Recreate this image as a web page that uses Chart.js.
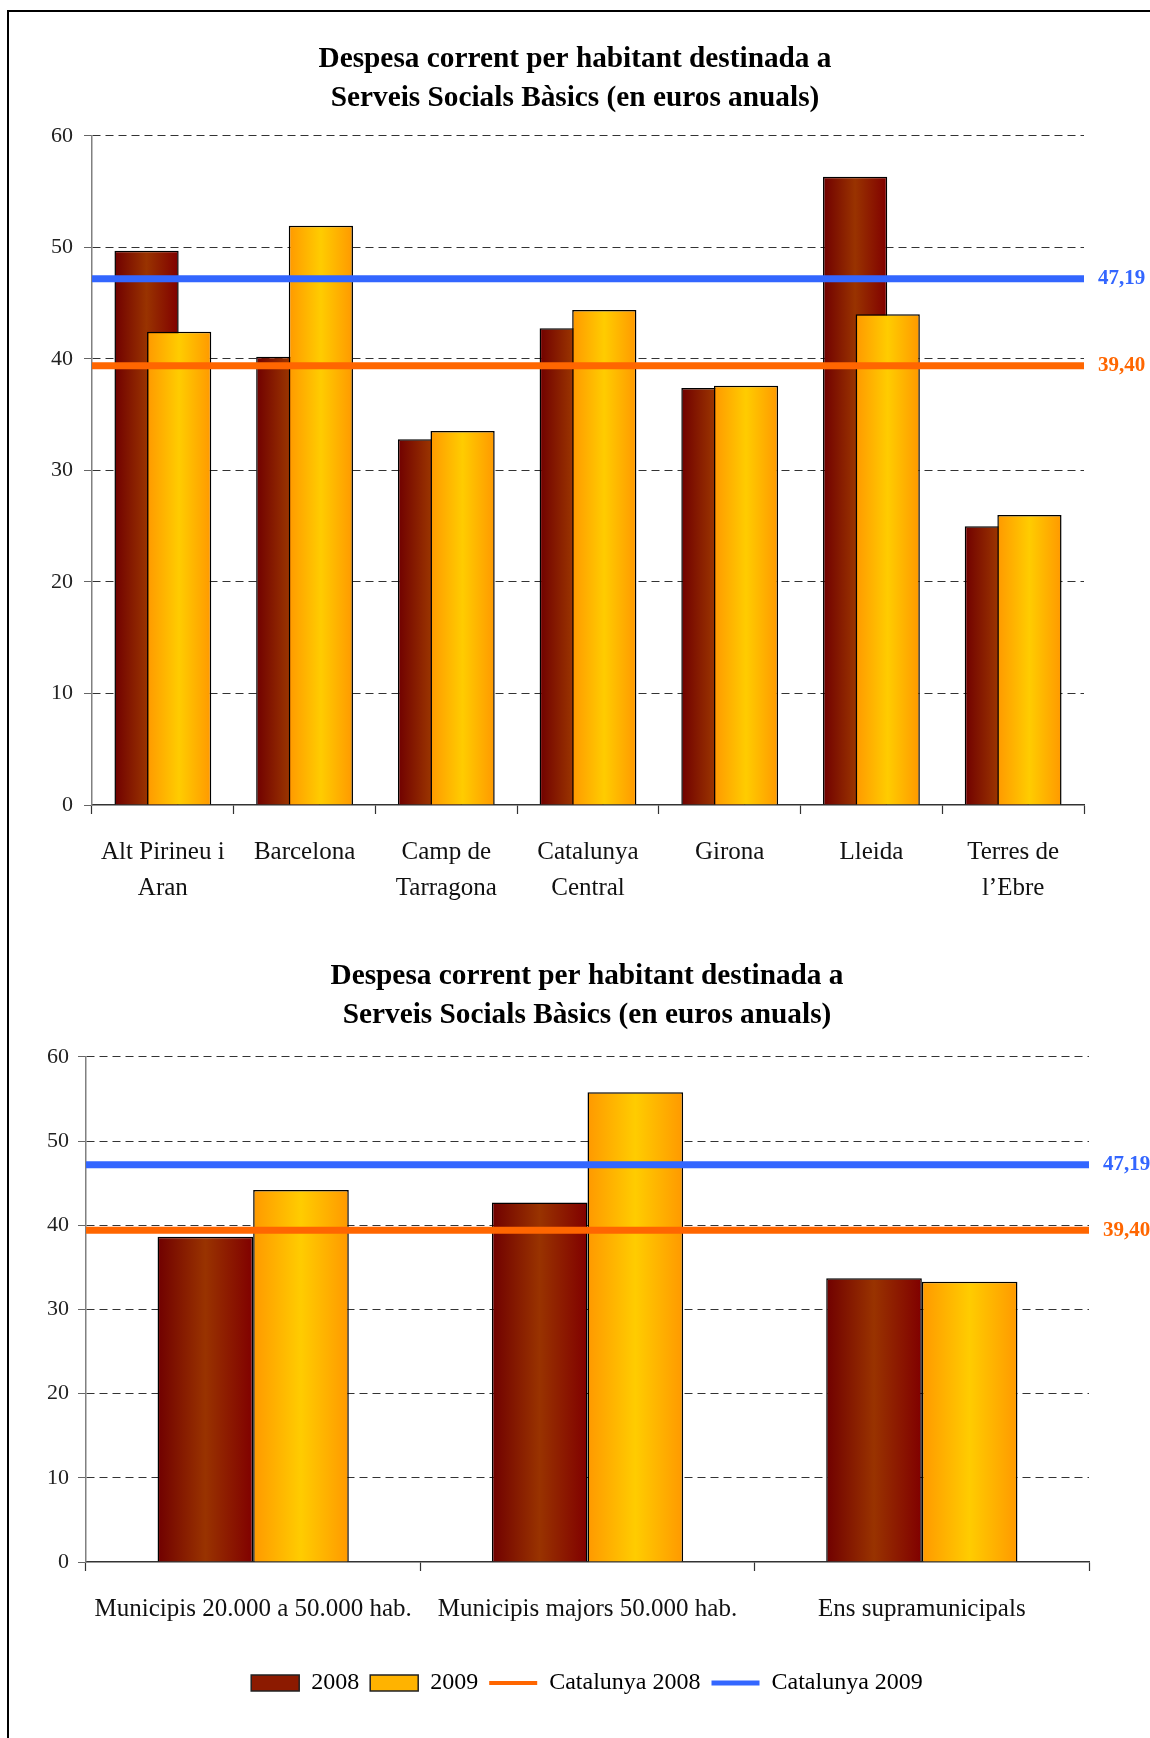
<!DOCTYPE html>
<html>
<head>
<meta charset="utf-8">
<script src="https://cdn.jsdelivr.net/npm/chart.js@4.4.1/dist/chart.umd.min.js"></script>
<style>
  html, body { margin: 0; padding: 0; background: #fff; overflow: hidden; }
  body { width: 1150px; height: 1738px; position: relative; }
  .frame { position: absolute; left: 7px; top: 10px; width: 1200px; height: 1800px; border: 2px solid #000; }
  .box { position: absolute; left: 0; width: 1150px; }
  #topBox { top: 0; height: 930px; }
  #bottomBox { top: 930px; height: 808px; }
</style>
</head>
<body>
<div class="frame"></div>
<div class="box" id="topBox"><canvas id="regionsChart"></canvas></div>
<div class="box" id="bottomBox"><canvas id="typesChart"></canvas></div>
<script>
// values
const chartTitle = ['Despesa corrent per habitant destinada a', 'Serveis Socials Bàsics (en euros anuals)'];

const regions = [['Alt Pirineu i', 'Aran'], 'Barcelona', ['Camp de', 'Tarragona'], ['Catalunya', 'Central'], 'Girona', 'Lleida', ['Terres de', 'l’Ebre']];
const regions2008 = [49.7, 40.2, 32.8, 42.75, 37.4, 56.35, 25.0];
const regions2009 = [42.45, 51.95, 33.55, 44.4, 37.6, 44.0, 26.0];

const entityTypes = ['Municipis 20.000 a 50.000 hab.', 'Municipis majors 50.000 hab.', 'Ens supramunicipals'];
const types2008 = [38.65, 42.7, 33.7];
const types2009 = [44.2, 55.8, 33.3];

const catalunya2008 = 39.40;
const catalunya2009 = 47.19;

const yTicks = [0, 10, 20, 30, 40, 50, 60];
const seriesNames = ['2008', '2009', 'Catalunya 2008', 'Catalunya 2009'];

const FONT = "'Liberation Serif', 'Times New Roman', serif";

// bars drawn in dataset order (2009 over 2008), then the Catalunya lines
// stretched over the whole plot width at the y the library gave their points
const barsUnderLines = {
    id: 'barsUnderLines',
    beforeDatasetsDraw(chart) {
        const ctx = chart.ctx;
        const area = chart.chartArea;
        chart.data.datasets.forEach((ds, i) => {
            const meta = chart.getDatasetMeta(i);
            if (ds.type === 'line') {
                const y = meta.data[0].y;
                ctx.save();
                ctx.strokeStyle = ds.borderColor;
                ctx.lineWidth = ds.borderWidth;
                ctx.beginPath();
                ctx.moveTo(area.left, y);
                ctx.lineTo(area.right, y);
                ctx.stroke();
                ctx.restore();
                return;
            }
            meta.data.forEach(bar => {
                const left = bar.x - bar.width / 2;
                const grad = ctx.createLinearGradient(left, 0, left + bar.width, 0);
                ds.shades.forEach((c, k) => grad.addColorStop(k / (ds.shades.length - 1), c));
                const own = bar.options;
                bar.options = Object.assign({}, own, { backgroundColor: grad });
                bar.draw(ctx);
                bar.options = own;
            });
        });
        return false;
    }
};

const lineValues = {
    id: 'lineValues',
    afterDraw(chart) {
        const ctx = chart.ctx;
        chart.data.datasets.forEach((ds, i) => {
            if (ds.type !== 'line') return;
            const pts = chart.getDatasetMeta(i).data;
            const last = pts[pts.length - 1];
            ctx.save();
            ctx.font = 'bold 21px ' + FONT;
            ctx.fillStyle = ds.borderColor;
            ctx.textBaseline = 'middle';
            ctx.fillText(ds.data[ds.data.length - 1].toFixed(2).replace('.', ','), chart.chartArea.right + 14, last.y);
            ctx.restore();
        });
    }
};

function buildChart(canvasId, labels, values2008, values2009, look) {
    const ctx = document.getElementById(canvasId).getContext('2d');
    return new Chart(ctx, {
        type: 'bar',
        data: {
            labels: labels,
            datasets: [
                {
                    label: seriesNames[0],
                    data: values2008,
                    backgroundColor: '#8c1a00',
                    shades: ['#700000', '#993300', '#800000'],
                    borderColor: '#000',
                    borderWidth: 1.5,
                    pointStyle: 'rect',
                    categoryPercentage: look.catPct,
                    barPercentage: look.barPct
                },
                {
                    label: seriesNames[1],
                    data: values2009,
                    backgroundColor: '#ffb300',
                    shades: ['#ff9900', '#ffcc00', '#ff9900'],
                    borderColor: '#000',
                    borderWidth: 1.5,
                    pointStyle: 'rect',
                    categoryPercentage: look.catPct,
                    barPercentage: look.barPct
                },
                {
                    type: 'line',
                    label: seriesNames[2],
                    data: labels.map(() => catalunya2008),
                    borderColor: '#ff6600',
                    borderWidth: 7,
                    pointRadius: 0,
                    pointStyle: 'line',
                    fill: false
                },
                {
                    type: 'line',
                    label: seriesNames[3],
                    data: labels.map(() => catalunya2009),
                    borderColor: '#3366ff',
                    borderWidth: 7,
                    pointRadius: 0,
                    pointStyle: 'line',
                    fill: false
                }
            ]
        },
        options: {
            responsive: true,
            maintainAspectRatio: false,
            animation: false,
            events: [],
            layout: { padding: { left: look.padLeft, right: 0, top: 0, bottom: look.padBottom } },
            scales: {
                x: {
                    offset: true,
                    grid: { display: true, drawOnChartArea: false, offset: true, tickLength: 9, tickColor: '#333', tickWidth: 1.2 },
                    border: { color: '#333', width: 1.5 },
                    ticks: {
                        color: '#111',
                        font: { family: FONT, size: 25, lineHeight: 1.44 },
                        padding: look.xPad,
                        maxRotation: 0,
                        autoSkip: false
                    },
                    afterFit: s => { s.height = look.xHeight; }
                },
                y: {
                    min: yTicks[0],
                    max: yTicks[yTicks.length - 1],
                    ticks: {
                        stepSize: yTicks[1] - yTicks[0],
                        color: '#222',
                        font: { family: FONT, size: 22 },
                        padding: look.yPad
                    },
                    grid: {
                        color: c => (c.tick && c.tick.value === 0) ? 'rgba(0,0,0,0)' : '#333',
                        lineWidth: 1,
                        tickLength: 8,
                        tickColor: '#666',
                        tickBorderDash: []
                    },
                    border: { color: '#808080', width: 1.5, dash: [8, 5] },
                    afterFit: s => { s.width = look.yWidth; }
                },
                yRight: {
                    position: 'right',
                    display: true,
                    grid: { display: false },
                    border: { display: false },
                    ticks: { display: false },
                    afterFit: s => { s.width = look.rightWidth; }
                }
            },
            plugins: {
                title: {
                    display: true,
                    text: chartTitle,
                    color: '#000',
                    font: { family: FONT, size: 29.3, weight: 'bold', lineHeight: 1.33 },
                    padding: { top: look.titleTop, bottom: look.titleBottom }
                },
                legend: {
                    display: look.legend,
                    position: 'bottom',
                    labels: {
                        usePointStyle: true,
                        pointStyleWidth: 48,
                        boxHeight: 16,
                        padding: 11,
                        color: '#000',
                        font: { family: FONT, size: 24 },
                        generateLabels(chart) {
                            const items = Chart.defaults.plugins.legend.labels.generateLabels(chart);
                            items.forEach(it => {
                                const ds = chart.data.datasets[it.datasetIndex];
                                if (ds.type === 'line') {
                                    it.lineWidth = it.datasetIndex === 2 ? 4 : 5;
                                    it.strokeStyle = ds.borderColor;
                                } else {
                                    it.strokeStyle = '#222';
                                    it.lineWidth = 1.5;
                                }
                            });
                            return items;
                        }
                    }
                },
                tooltip: { enabled: false }
            }
        },
        plugins: [barsUnderLines, lineValues]
    });
}

buildChart('regionsChart', regions, regions2008, regions2009, {
    catPct: 0.46, barPct: 1.97,
    padLeft: 0, padBottom: 15,
    yWidth: 92, rightWidth: 66, yPad: 11,
    xHeight: 110, xPad: 20,
    titleTop: 40, titleBottom: 18,
    legend: false
});

buildChart('typesChart', entityTypes, types2008, types2009, {
    catPct: 0.572, barPct: 1,
    padLeft: 24, padBottom: 33,
    yWidth: 62, rightWidth: 61, yPad: 9,
    xHeight: 98, xPad: 20,
    titleTop: 27, titleBottom: 22,
    legend: true
});
</script>
</body>
</html>
